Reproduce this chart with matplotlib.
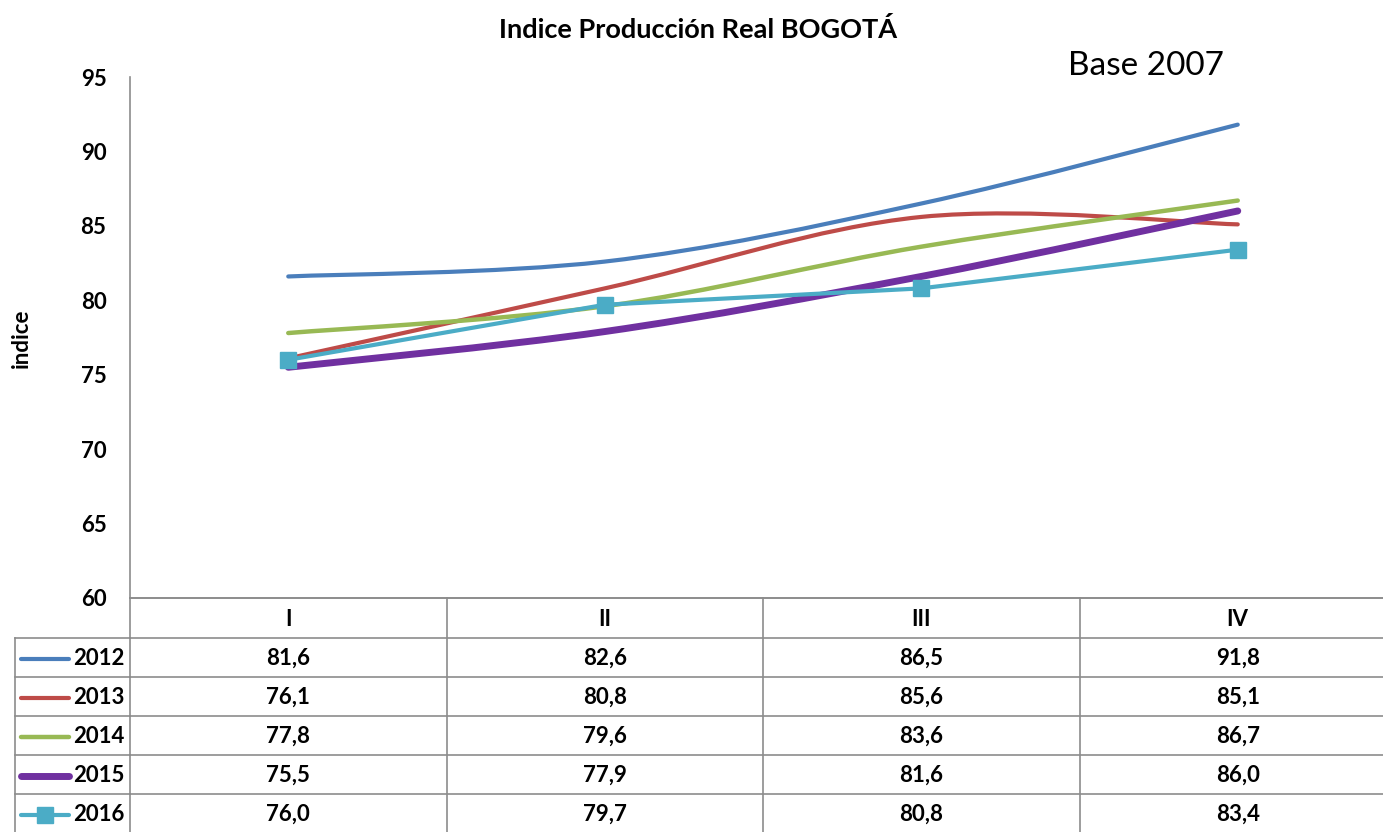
import numpy as np
import matplotlib.pyplot as plt
from matplotlib.path import Path
from matplotlib.patches import PathPatch

plt.rcParams['font.family'] = ['Lato', 'DejaVu Sans']

trimestres = ["I", "II", "III", "IV"]
anios = ["2012", "2013", "2014", "2015", "2016"]
v2012 = [81.6, 82.6, 86.5, 91.8]
v2013 = [76.1, 80.8, 85.6, 85.1]
v2014 = [77.8, 79.6, 83.6, 86.7]
v2015 = [75.5, 77.9, 81.6, 86.0]
v2016 = [76.0, 79.7, 80.8, 83.4]
series = [v2012, v2013, v2014, v2015, v2016]

colores = ["#4A7EBB", "#BE4B48", "#98B954", "#7030A0", "#4BACC6"]
grosor = [3.0, 3.0, 3.2, 5.0, 3.0]
suave = [True, True, True, True, False]

W, H = 1383, 832
fig = plt.figure(figsize=(W / 100, H / 100), dpi=100)
ax_left, ax_right, ax_top, ax_bot = 130, 1396, 77, 598
ax = fig.add_axes([ax_left / W, 1 - ax_bot / H, (ax_right - ax_left) / W, (ax_bot - ax_top) / H])

grid_c = "#8c8c8c"
fs = 16


def smooth_path(xs, ys):
    # excel style smoothed line: cubic bezier through the points
    pts = np.column_stack([xs, ys])
    n = len(pts)
    verts = [pts[0]]
    codes = [Path.MOVETO]
    for i in range(n - 1):
        p0 = pts[i - 1] if i > 0 else pts[i]
        p1 = pts[i]
        p2 = pts[i + 1]
        p3 = pts[i + 2] if i + 2 < n else pts[i + 1]
        c1 = p1 + (p2 - p0) / 6
        c2 = p2 - (p3 - p1) / 6
        verts += [c1, c2, p2]
        codes += [Path.CURVE4] * 3
    return Path(verts, codes)


x = np.arange(len(trimestres))
for vals, c, lw, sm in zip(series, colores, grosor, suave):
    if sm:
        ax.add_patch(PathPatch(smooth_path(x, vals), fill=False, edgecolor=c,
                               lw=lw, capstyle='round', joinstyle='round'))
    else:
        ax.plot(x, vals, color=c, lw=lw, marker='s', markersize=11,
                solid_capstyle='round')

ax.set_xlim(-0.5, 3.5)
ax.set_ylim(60, 95)
ax.set_yticks(np.arange(60, 96, 5))
ax.set_xticks([])
ax.tick_params(axis='y', length=0, pad=17, labelsize=fs)
for lab in ax.get_yticklabels():
    lab.set_fontweight('bold')
for s in ["top", "right"]:
    ax.spines[s].set_visible(False)
for s in ["left", "bottom"]:
    ax.spines[s].set_color(grid_c)
    ax.spines[s].set_linewidth(1.2)

# data table under the plot
tr = ax.get_xaxis_transform()
hgt = ax_bot - ax_top


def fy(px):
    return (ax_bot - px) / hgt


row_edges = [598, 638, 677, 716, 755, 794, 833]
kw = dict(color=grid_c, lw=1.2, clip_on=False)
# horizontal lines
for ry in row_edges:
    ax.plot([-0.5, 3.5], [fy(ry)] * 2, transform=tr, **kw)
for ry in row_edges[1:]:
    fig.add_artist(plt.Line2D([15 / W, ax_left / W], [1 - ry / H] * 2,
                              color=grid_c, lw=1.2))
# vertical lines
for i in range(len(trimestres) + 1):
    ax.plot([i - 0.5] * 2, [fy(598), fy(833)], transform=tr, **kw)
fig.add_artist(plt.Line2D([15 / W] * 2, [1 - 638 / H, 1 - 833 / H], color=grid_c, lw=1.2))

# header
for i, t in enumerate(trimestres):
    ax.text(i, fy(619), t, transform=tr, ha='center', va='center',
            fontsize=fs, fontweight='bold', clip_on=False)

# rows
for r, (anio, vals, c, lw) in enumerate(zip(anios, series, colores, grosor)):
    yc = (row_edges[r + 1] + row_edges[r + 2]) / 2 + 1
    for i, v in enumerate(vals):
        ax.text(i, fy(yc), f"{v:.1f}".replace(".", ","), transform=tr,
                ha='center', va='center', fontsize=fs, fontweight='bold', clip_on=False)
    fig.add_artist(plt.Line2D([21 / W, 69 / W], [1 - yc / H] * 2, color=c, lw=lw,
                              solid_capstyle='round'))
    if anio == "2016":
        fig.add_artist(plt.Line2D([45 / W], [1 - yc / H], color=c, marker='s',
                                  markersize=11, lw=0))
    fig.text(73 / W, 1 - yc / H, anio, ha='left', va='center', fontsize=fs,
             fontweight='bold')

fig.text(698 / W, 1 - 30 / H, "Indice Producción Real BOGOTÁ", ha='center', va='center',
         fontsize=19.5, fontweight='bold')
fig.text(1146 / W, 1 - 66 / H, "Base 2007", ha='center', va='center', fontsize=24,
         fontweight='normal')
fig.text(21 / W, 1 - 338 / H, "indice", rotation=90, ha='center', va='center',
         fontsize=fs, fontweight='bold')

fig.savefig("out.png", dpi=100)
